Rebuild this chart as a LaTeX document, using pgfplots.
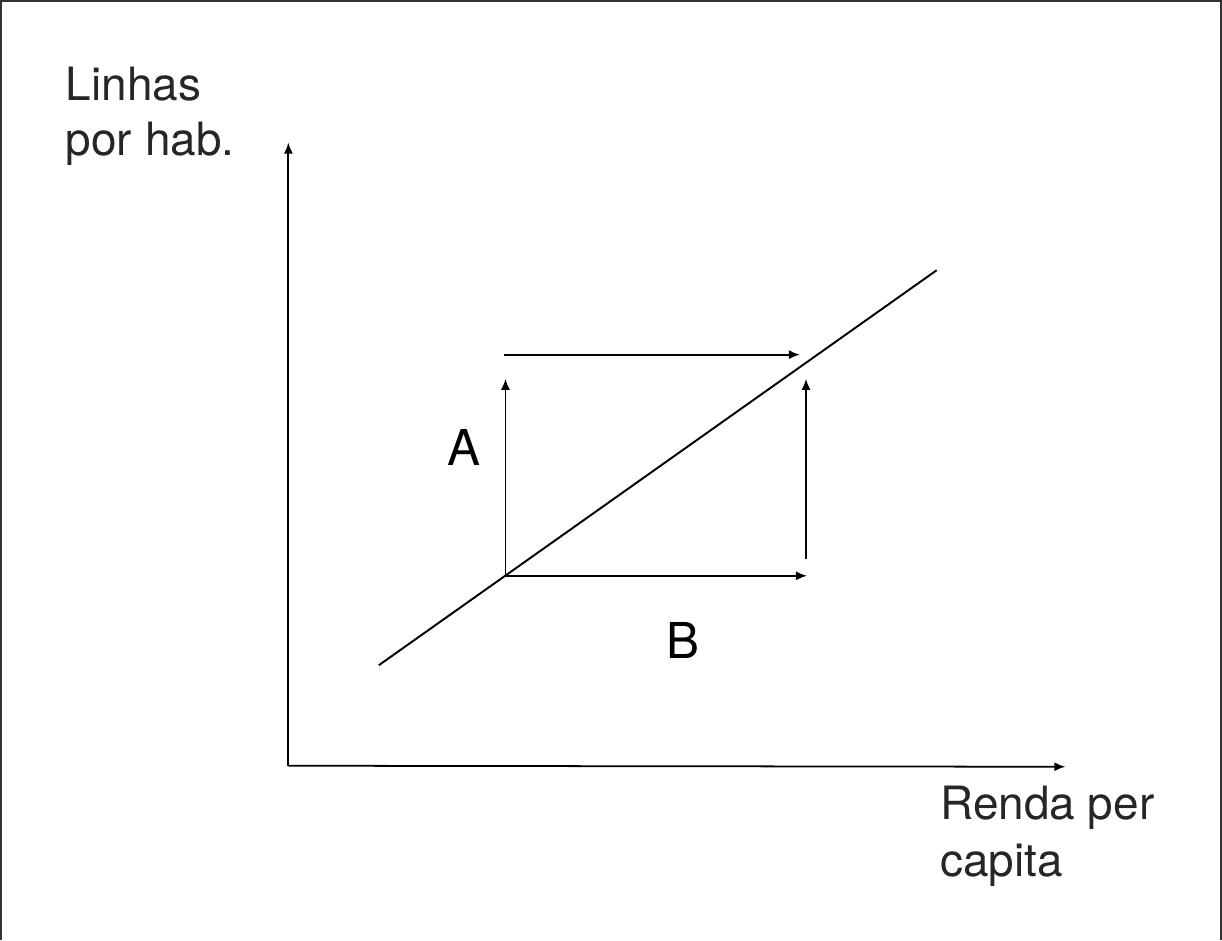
\documentclass[border=0pt]{standalone}
\usepackage{pgfplots}
\pgfplotsset{compat=1.18}
\usetikzlibrary{arrows.meta}
\usepackage{fontspec}
\setmainfont{TeX Gyre Heros}

\begin{document}
\begin{tikzpicture}
\begin{axis}[
    width=12.22cm, height=9.4cm, scale only axis,
    xmin=0, xmax=1222, ymin=0, ymax=940,
    hide axis, clip=false,
]
% frame of the scanned page
\addplot[black!80, line width=0.5pt] coordinates {(6,0) (6,934) (1220,934) (1220,0)};
% axes
\addplot[black, line width=0.5pt, -{Latex[length=1.1mm,width=0.9mm]}] coordinates {(292,173) (292,793)};
\addplot[black, line width=0.5pt, -{Latex[length=1.1mm,width=0.9mm]}] coordinates {(292,173) (1065,172)};
% relation line
\addplot[black, line width=0.55pt] coordinates {(382,273) (937,666)};
% arrows A and B
\addplot[black, line width=0.5pt, -{Latex[length=1.1mm,width=0.9mm]}] coordinates {(507,582) (801,582)};
\addplot[black, line width=0.5pt, -{Latex[length=1.1mm,width=0.9mm]}] coordinates {(508,362) (508,558)};
\addplot[black, line width=0.5pt, -{Latex[length=1.1mm,width=0.9mm]}] coordinates {(807,379) (807,558)};
\addplot[black, line width=0.5pt, -{Latex[length=1.1mm,width=0.9mm]}] coordinates {(508,362) (808,362)};
% labels
\tikzset{lbl/.style={anchor=base west, inner sep=0pt, text=black!85, font=\fontsize{13}{15}\selectfont}}
\node[lbl] at (axis cs:70,835) {Linhas};
\node[lbl] at (axis cs:70,780) {por hab.};
\node[lbl] at (axis cs:940,120) {Renda per};
\node[lbl] at (axis cs:940,63) {capita};
\node[font=\fontsize{14}{16}\selectfont] at (axis cs:467,490) {A};
\node[font=\fontsize{14}{16}\selectfont] at (axis cs:685,298) {B};
\end{axis}
\end{tikzpicture}
\end{document}
